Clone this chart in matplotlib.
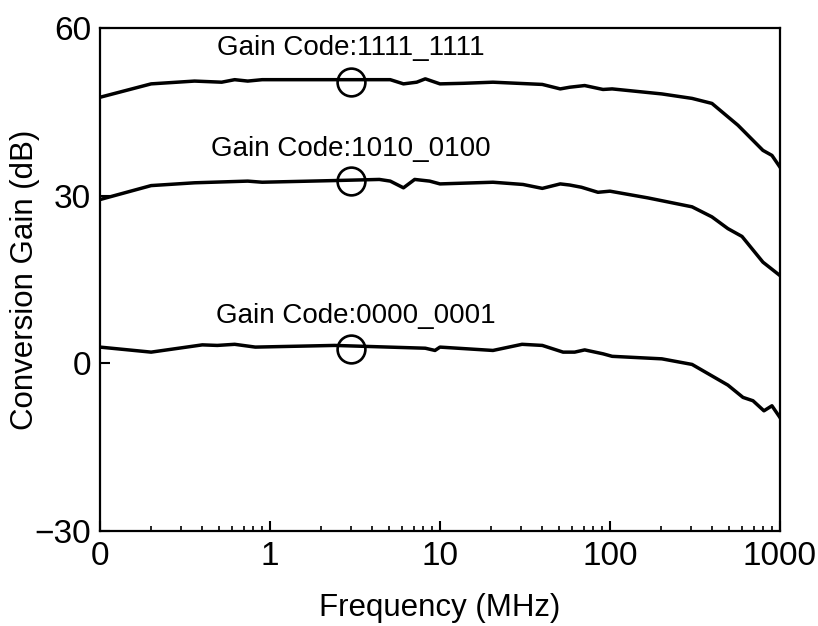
import matplotlib
matplotlib.use("Agg")
import matplotlib.pyplot as plt
from matplotlib.ticker import FixedLocator, FixedFormatter, LogLocator, NullFormatter

plt.rcParams['font.family'] = ['Liberation Sans', 'DejaVu Sans']

# Frequency (MHz) and conversion gain (dB) for each gain code
f_hi = [0.1, 0.2, 0.36, 0.52, 0.62, 0.74, 0.9, 2.4, 5.1, 6.1, 7.3, 8.2, 10, 13.7, 20.5,
        40, 51, 58, 71, 91, 103, 202, 304, 398, 566, 794, 897, 1000]
g_hi = [47.6, 50.0, 50.5, 50.3, 50.75, 50.5, 50.75, 50.75, 50.75, 50.0, 50.3, 50.9, 50.0,
        50.1, 50.3, 49.9, 49.1, 49.4, 49.7, 49.0, 49.1, 48.2, 47.4, 46.5, 42.6, 38.1, 37.2, 35.1]

f_mid = [0.1, 0.2, 0.36, 0.74, 0.9, 2.4, 4.4, 5.1, 6.1, 7.1, 8.7, 10, 20.5, 30.8, 40, 51,
         58, 68, 85, 100, 167, 304, 398, 494, 598, 794, 1000]
g_mid = [29.3, 31.8, 32.3, 32.6, 32.4, 32.7, 32.9, 32.6, 31.4, 32.9, 32.6, 32.1, 32.4, 32.0,
         31.3, 32.1, 31.9, 31.5, 30.6, 30.8, 29.6, 28.0, 26.2, 24.1, 22.7, 18.1, 15.7]

f_lo = [0.1, 0.2, 0.4, 0.49, 0.62, 0.82, 2.4, 8.2, 9.35, 10, 20.5, 30.4, 40, 53, 62, 71,
        91, 103, 202, 304, 494, 606, 694, 805, 897, 1000]
g_lo = [2.9, 2.0, 3.3, 3.2, 3.4, 2.9, 3.2, 2.7, 2.3, 2.9, 2.3, 3.4, 3.2, 2.0, 2.0, 2.4,
        1.7, 1.25, 0.8, -0.2, -3.9, -6.1, -6.7, -8.5, -7.6, -9.7]

marker_f = 3.0
marker_g = [50.3, 32.6, 2.5]
labels = ["Gain Code:1111_1111", "Gain Code:1010_0100", "Gain Code:0000_0001"]
label_f = [3.0, 3.0, 3.2]
label_g = [56.4, 38.4, 8.4]

xticks = [0.1, 1, 10, 100, 1000]
xticklabels = ["0", "1", "10", "100", "1000"]
yticks = [-30, 0, 30, 60]

fig = plt.figure(figsize=(8.18, 6.26), dpi=100)
ax = fig.add_axes([0.1222, 0.1518, 0.8313, 0.8035])

for f, g in [(f_hi, g_hi), (f_mid, g_mid), (f_lo, g_lo)]:
    ax.plot(f, g, color='black', lw=2.5, solid_joinstyle='round')

ax.plot([marker_f] * 3, marker_g, linestyle='none', marker='o', markersize=20,
        markerfacecolor='none', markeredgecolor='black', markeredgewidth=1.9)

for lab, x, y in zip(labels, label_f, label_g):
    ax.text(x, y, lab, ha='center', va='center', fontsize=20)

ax.set_xscale('log')
ax.set_xlim(0.1, 1000)
ax.set_ylim(-30, 60)
ax.xaxis.set_major_locator(FixedLocator(xticks))
ax.xaxis.set_major_formatter(FixedFormatter(xticklabels))
ax.xaxis.set_minor_locator(LogLocator(base=10, subs=range(2, 10)))
ax.xaxis.set_minor_formatter(NullFormatter())
ax.set_yticks(yticks)
ax.set_yticklabels(["\u221230", "0", "30", "60"])

ax.tick_params(which='major', direction='in', length=7, width=1.5, labelsize=24,
               top=False, right=False)
ax.tick_params(axis='x', which='major', pad=7)
ax.tick_params(axis='y', which='major', pad=6.5)
ax.tick_params(which='minor', direction='in', length=3.5, width=1.2, top=False, right=False)
for s in ax.spines.values():
    s.set_linewidth(1.6)

ax.set_xlabel("Frequency (MHz)", fontsize=22.5, labelpad=15)
ax.set_ylabel("Conversion Gain (dB)", fontsize=22.5)
ax.yaxis.set_label_coords(-0.088, 0.5)

fig.savefig("out.png", dpi=100)
